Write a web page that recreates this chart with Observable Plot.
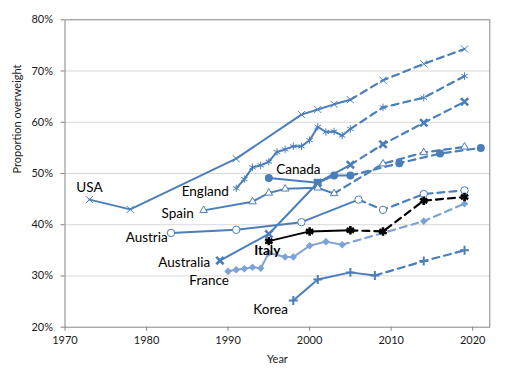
<!DOCTYPE html>
<html>
<head>
<meta charset="utf-8">
<script src="https://cdn.jsdelivr.net/npm/d3@7"></script>
<script src="https://cdn.jsdelivr.net/npm/@observablehq/plot@0.6"></script>
<style>
  html, body { margin: 0; padding: 0; background: #fff; }
  #chart svg { display: block; }
</style>
</head>
<body>
<div id="chart"></div>
<script>
// ---- Data (values in %) ----
const countries = ["USA", "England", "Canada", "Australia", "Spain", "Austria", "France", "Korea", "Italy"];

const usaYears = [1973, 1978, 1991, 1999, 2001, 2003, 2005];
const usaValues = [44.9, 43.0, 52.9, 61.5, 62.5, 63.5, 64.4];
const usaProjYears = [2009, 2014, 2019];
const usaProjValues = [68.2, 71.4, 74.3];

const englandYears = [1991, 1992, 1993, 1994, 1995, 1996, 1997, 1998, 1999, 2000, 2001, 2002, 2003, 2004, 2005];
const englandValues = [47.1, 48.9, 51.2, 51.6, 52.3, 54.2, 54.7, 55.3, 55.3, 56.5, 59.1, 58.1, 58.2, 57.4, 58.7];
const englandProjYears = [2009, 2014, 2019];
const englandProjValues = [62.9, 64.8, 69.0];

const canadaYears = [1995, 2001, 2003, 2005];
const canadaValues = [49.1, 48.2, 49.6, 49.6];
const canadaProjYears = [2011, 2016, 2021];
const canadaProjValues = [52.0, 53.9, 55.0];

const australiaYears = [1989, 1995, 2001, 2005];
const australiaValues = [33.0, 38.2, 48.2, 51.7];
const australiaProjYears = [2009, 2014, 2019];
const australiaProjValues = [55.7, 59.9, 64.0];

const spainYears = [1987, 1993, 1995, 1997, 2001, 2003];
const spainValues = [42.8, 44.5, 46.2, 47.0, 47.2, 46.1];
const spainProjYears = [2009, 2014, 2019];
const spainProjValues = [51.9, 54.1, 55.2];

const austriaYears = [1983, 1991, 1999, 2006];
const austriaValues = [38.4, 39.0, 40.5, 44.9];
const austriaProjYears = [2009, 2014, 2019];
const austriaProjValues = [42.9, 46.0, 46.7];

const franceYears = [1990, 1991, 1992, 1993, 1994, 1995, 1997, 1998, 2000, 2002, 2004];
const franceValues = [30.9, 31.2, 31.4, 31.7, 31.5, 34.5, 33.7, 33.7, 35.9, 36.7, 36.1];
const franceProjYears = [2014, 2019];
const franceProjValues = [40.7, 44.1];

const koreaYears = [1998, 2001, 2005, 2008];
const koreaValues = [25.2, 29.3, 30.7, 30.1];
const koreaProjYears = [2014, 2019];
const koreaProjValues = [32.9, 35.0];

const italyYears = [1995, 2000, 2005];
const italyValues = [36.8, 38.7, 38.9];
const italyProjYears = [2009, 2014, 2019];
const italyProjValues = [38.7, 44.7, 45.4];

// label anchor points (year, %) and text
const labelNames = ["USA", "England", "Spain", "Austria", "Australia", "France", "Italy", "Canada", "Korea"];
const labelYears = [1973.0, 1990.1, 1985.8, 1982.6, 1987.8, 1990.1, 1993.2, 1995.9, 1993.1];
const labelValues = [47.3, 46.5, 42.1, 37.45, 32.6, 29.1, 35.0, 50.7, 23.4];

const xTicks = [1970, 1980, 1990, 2000, 2010, 2020];
const yTicks = [20, 30, 40, 50, 60, 70, 80];

// ---- Build tables ----
const series = {
  USA: [usaYears, usaValues, usaProjYears, usaProjValues],
  England: [englandYears, englandValues, englandProjYears, englandProjValues],
  Canada: [canadaYears, canadaValues, canadaProjYears, canadaProjValues],
  Australia: [australiaYears, australiaValues, australiaProjYears, australiaProjValues],
  Spain: [spainYears, spainValues, spainProjYears, spainProjValues],
  Austria: [austriaYears, austriaValues, austriaProjYears, austriaProjValues],
  France: [franceYears, franceValues, franceProjYears, franceProjValues],
  Korea: [koreaYears, koreaValues, koreaProjYears, koreaProjValues],
  Italy: [italyYears, italyValues, italyProjYears, italyProjValues]
};
const BLUE = "#4A7EBB", LIGHT = "#7DA2D6", BLACK = "#000000";
const colorOf = c => c === "Italy" ? BLACK : c === "France" ? LIGHT : BLUE;

const obs = [], proj = [];
for (const c of countries) {
  const [ys, vs, pys, pvs] = series[c];
  ys.forEach((y, i) => obs.push({country: c, year: y, value: vs[i], color: colorOf(c)}));
  proj.push({country: c, year: ys[ys.length - 1], value: vs[vs.length - 1], color: colorOf(c), anchor: true});
  pys.forEach((y, i) => proj.push({country: c, year: y, value: pvs[i], color: colorOf(c)}));
}
const allPts = obs.concat(proj.filter(d => !d.anchor));

const markerStyle = {
  USA: {symbol: "times", r: 3.3, fill: "none", strokeWidth: 1},
  England: {symbol: "asterisk", r: 3.5, fill: "none", strokeWidth: 1},
  Australia: {symbol: "times", r: 3.4, fill: "none", strokeWidth: 2.6},
  Italy: {symbol: "asterisk", r: 4, fill: "none", strokeWidth: 2.6},
  Korea: {symbol: "plus", r: 3, fill: "none", strokeWidth: 2},
  Canada: {symbol: "circle", r: 4, fill: BLUE, strokeWidth: 0},
  Austria: {symbol: "circle", r: 3.7, fill: "white", strokeWidth: 1},
  Spain: {symbol: "triangle", r: 2.8, fill: "white", strokeWidth: 1},
  France: {symbol: "diamond2", r: 3.4, fill: LIGHT, strokeWidth: 0}
};

const labels = labelNames.map((n, i) => ({name: n, year: labelYears[i], value: labelValues[i]}));
const endLabels = labels.filter(d => ["England", "Spain", "Austria", "Australia", "France"].includes(d.name));
const startLabels = labels.filter(d => ["Canada", "Korea"].includes(d.name));
const midLabels = labels.filter(d => d.name === "USA");
const boldLabels = labels.filter(d => d.name === "Italy");

const FONT = "Lato, 'Open Sans', sans-serif";
const labelOpts = {x: "year", y: "value", text: "name", fontSize: 13.5, fill: "#000", fontFamily: FONT};

const drawOrder = ["USA", "England", "Canada", "Spain", "Austria", "France", "Korea", "Australia", "Italy"];

const chart = Plot.plot({
  width: 522,
  height: 374,
  marginLeft: 64.5,
  marginRight: 32.7,
  marginTop: 19.3,
  marginBottom: 47.3,
  style: {fontFamily: FONT, background: "white"},
  x: {domain: [1970, 2022.1]},
  y: {domain: [20, 80]},
  color: {type: "identity"},
  marks: [
    Plot.gridY(yTicks.filter(t => t > 20 && t < 80), {stroke: "#d9d9d9", strokeOpacity: 1}),
    Plot.axisX({ticks: xTicks, tickFormat: d => String(d), tickSize: 4, tickPadding: 5, stroke: "#868686", fill: "#1a1a1a", fontSize: 11, label: null}),
    Plot.axisY({ticks: yTicks, tickFormat: d => d + "%", tickSize: 4, tickPadding: 8, stroke: "#868686", fill: "#1a1a1a", fontSize: 11, label: null}),
    Plot.frame({stroke: "#868686"}),
    Plot.text(["Year"], {frameAnchor: "bottom", dy: 35.5, text: d => d, fontSize: 11, fill: "#1a1a1a"}),
    Plot.text(["Proportion overweight"], {frameAnchor: "left", dx: -47.5, rotate: -90, text: d => d, fontSize: 11, fill: "#1a1a1a"}),
    ...drawOrder.flatMap(c => {
      const ms = markerStyle[c];
      return [
        Plot.line(obs.filter(d => d.country === c), {x: "year", y: "value", stroke: "color", strokeWidth: 2}),
        Plot.line(proj.filter(d => d.country === c), {x: "year", y: "value", stroke: "color", strokeWidth: 2.2, strokeDasharray: "7,5"}),
        Plot.dot(allPts.filter(d => d.country === c), {
          x: "year", y: "value", symbol: () => ms.symbol, r: ms.r,
          stroke: ms.strokeWidth > 0 ? "color" : "none", strokeWidth: ms.strokeWidth,
          fill: ms.fill === "white" || ms.fill === "none" ? ms.fill : "color"
        })
      ];
    }),
    Plot.text(endLabels, {...labelOpts, textAnchor: "end"}),
    Plot.text(startLabels, {...labelOpts, textAnchor: "start"}),
    Plot.text(midLabels, {...labelOpts, textAnchor: "middle"}),
    Plot.text(boldLabels, {...labelOpts, textAnchor: "start", fontWeight: "bold"})
  ]
});
document.getElementById("chart").appendChild(chart);
</script>
</body>
</html>
